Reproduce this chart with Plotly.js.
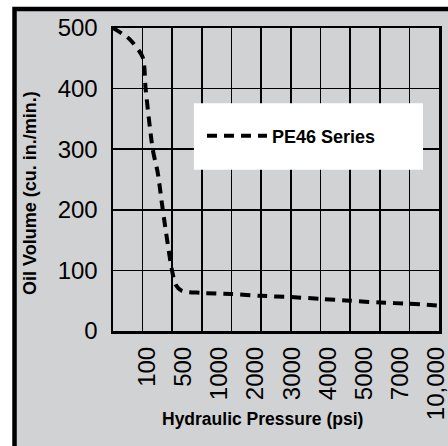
<!DOCTYPE html>
<html>
<head>
<meta charset="utf-8">
<script src="https://cdn.plot.ly/plotly-3.0.1.min.js"></script>
<style>
html,body{margin:0;padding:0;background:#ffffff;overflow:hidden;}
#chart{width:448px;height:446px;}
</style>
</head>
<body>
<div id="chart"></div>
<script>
// Pressure tick labels (psi)
var pressureLabels = ["100", "500", "1000", "2000", "3000", "4000", "5000", "7000", "10,000"];
// Curve, x in chart grid units (0..11), y in cu. in./min.
var curveX = [0, 0.55, 1.0, 1.1, 1.34, 1.51, 1.68, 1.99, 2.12, 2.33, 2.94, 4, 5, 6, 7, 8, 9, 10, 11];
var curveY = [500, 482, 452, 400, 300, 261, 200, 100, 76, 66, 63, 61, 58, 56, 53, 50, 47, 45, 42];
var seriesName = "PE46 Series";
var yTicks = [0, 100, 200, 300, 400, 500];

var font = "Arial, 'Liberation Sans', Helvetica, sans-serif";
var labelPos = pressureLabels.map(function(_, i){ return 1.15 + i * 1.22; });

var trace = {
  x: curveX, y: curveY, type: "scatter", mode: "lines", name: seriesName,
  line: {color: "#000000", width: 4, dash: "10px,7px", shape: "spline", smoothing: 0.7},
  showlegend: true
};
var dummy = {x: [0], y: [null], xaxis: "x2", yaxis: "y", type: "scatter", mode: "lines", showlegend: false, hoverinfo: "skip"};

var layout = {
  width: 448, height: 446,
  margin: {l: 113, r: 9, t: 28, b: 115},
  paper_bgcolor: "#ffffff",
  plot_bgcolor: "#ffffff",
  font: {family: font, color: "#000000"},
  xaxis: {
    range: [0, 11], dtick: 1, tick0: 0, showticklabels: false, ticks: "",
    showgrid: true, gridcolor: "#000000", gridwidth: 1.6, zeroline: false,
    showline: true, linecolor: "#000000", linewidth: 2.5, mirror: true
  },
  xaxis2: {
    overlaying: "x", anchor: "y", side: "bottom", range: [0, 11],
    tickmode: "array", tickvals: labelPos, ticktext: pressureLabels,
    tickangle: -90, ticks: "", showgrid: false, zeroline: false, showline: false,
    tickfont: {family: font, size: 24, color: "#000000"}, ticklabelstandoff: 10,
    ticklabeloverflow: "allow"
  },
  yaxis: {
    range: [0, 500], tickmode: "array", tickvals: yTicks, ticks: "",
    showgrid: true, gridcolor: "#000000", gridwidth: 1.6, zeroline: false,
    showline: true, linecolor: "#000000", linewidth: 2.5, mirror: true,
    tickfont: {family: font, size: 24, color: "#000000"}, ticklabelstandoff: 8
  },
  legend: {
    x: 0.273, y: 0.6436, xanchor: "left", yanchor: "middle",
    bgcolor: "rgba(0,0,0,0)", borderwidth: 0,
    font: {family: font, size: 18, color: "#000000", weight: "bold"},
    itemwidth: 60
  },
  shapes: [
    {type: "rect", xref: "paper", yref: "paper", x0: -0.3021, x1: 1.3, y0: -0.7, y1: 1.0627,
     fillcolor: "#d1d2d4", line: {color: "#000000", width: 4.5}, layer: "below"},
    {type: "rect", xref: "x", yref: "y", x0: 2.73, x1: 10.46, y0: 266, y1: 376,
     fillcolor: "#ffffff", line: {width: 0}, layer: "above"}
  ],
  annotations: [
    {text: "<b>Oil Volume (cu. in./min.)</b>", xref: "paper", yref: "paper", x: -0.2546, y: 0.4554,
     xanchor: "center", yanchor: "middle", textangle: -90, showarrow: false,
     font: {family: font, size: 18, color: "#000000"}},
    {text: "<b>Hydraulic Pressure (psi)</b>", xref: "paper", yref: "paper", x: 0.4586, y: -0.2904,
     xanchor: "center", yanchor: "middle", showarrow: false,
     font: {family: font, size: 17.5, color: "#000000"}}
  ]
};

Plotly.newPlot("chart", [trace, dummy], layout, {staticPlot: true, displayModeBar: false});
</script>
</body>
</html>
